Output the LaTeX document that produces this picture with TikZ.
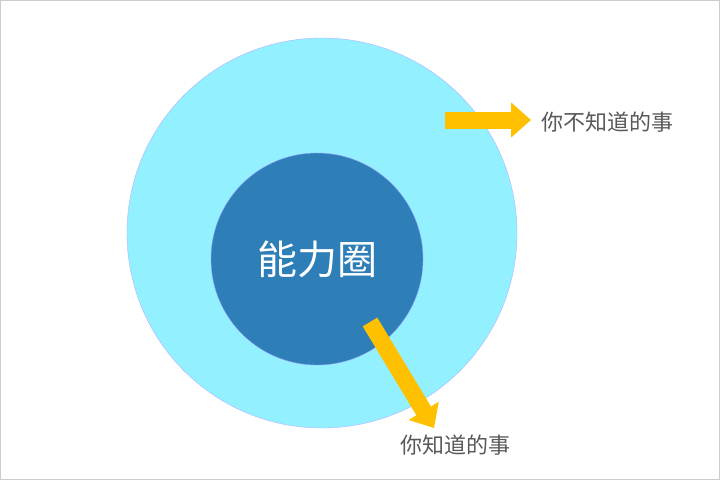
\documentclass[tikz,border=0pt]{standalone}
\usepackage{fontspec}
\newfontfamily\cjk{Noto Sans CJK SC}
\usetikzlibrary{arrows.meta}
\definecolor{outerc}{HTML}{93F1FF}
\definecolor{innerc}{HTML}{2E7EB8}
\definecolor{arrc}{HTML}{FFC000}
\definecolor{txtc}{HTML}{595959}
\tikzset{
 yarrow/.style={draw=arrc,line width=17pt,-{Triangle[width=34pt,length=20pt]}},
 lbl/.style={font=\cjk\fontsize{22}{24}\selectfont,text=txtc,inner sep=0pt}
}
\begin{document}
\begin{tikzpicture}[x=1pt,y=-1pt]
\draw[draw=gray!40,fill=white] (0.5,0.5) rectangle (719.5,479.5);
\useasboundingbox (0,0) rectangle (720,480);
\node[circle,draw=blue!30,fill=outerc,minimum size=390pt,inner sep=0pt] (outer) at (322,233) {};
\node[circle,draw=blue!40,fill=innerc,minimum size=212pt,inner sep=0pt,text=white,font=\cjk\fontsize{40}{44}\selectfont] (inner) at (317,259) {能力圈};
\coordinate (a1) at (445,120);
\coordinate (a2) at (531,120);
\coordinate (b1) at (370,322);
\coordinate (b2) at (434,428);
\draw[yarrow] (a1) -- (a2);
\draw[yarrow] (b1) -- (b2);
\node[lbl,anchor=west] (t1) at (541,122) {你不知道的事};
\node[lbl,anchor=west] (t2) at (400,445) {你知道的事};
\end{tikzpicture}
\end{document}
